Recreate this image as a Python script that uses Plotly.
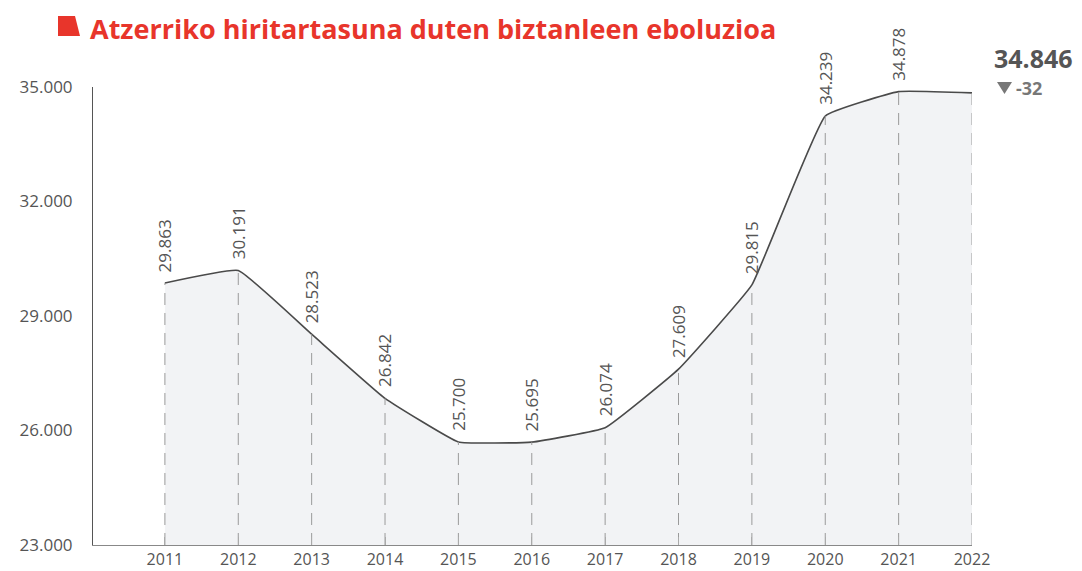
import plotly.graph_objects as go

years = [2011, 2012, 2013, 2014, 2015, 2016, 2017, 2018, 2019, 2020, 2021, 2022]
values = [29863, 30191, 28523, 26842, 25700, 25695, 26074, 27609, 29815, 34239, 34878, 34846]
labels = ["29.863", "30.191", "28.523", "26.842", "25.700", "25.695", "26.074", "27.609", "29.815", "34.239", "34.878"]
y_ticks = [23000, 26000, 29000, 32000, 35000]
last_value_text = "34.846"
change_value = "-32"
title_text = "Atzerriko hiritartasuna duten biztanleen eboluzioa"

OFF = 8  # page body margin
W, H = 1082 - OFF, 571 - OFF
ML, MR, MT, MB = 93 - OFF, 110, 87 - OFF, 26
FONT = "Open Sans"
GREY = "#555555"

def px(xp):
    return (xp - OFF - ML) / (W - ML - MR)

def py(yp):
    return 1 - (yp - OFF - MT) / (H - MT - MB)

fig = go.Figure()

fig.add_trace(go.Scatter(
    x=years, y=values, mode="lines",
    line=dict(color="#4a4a4a", width=1.6, shape="spline", smoothing=0.3),
    fill="tozeroy", fillcolor="#f2f3f5",
    hoverinfo="skip", showlegend=False,
))

for yr, v in zip(years, values):
    fig.add_trace(go.Scatter(
        x=[yr, yr], y=[y_ticks[0], v], mode="lines",
        line=dict(color="#9a9a9a", width=1, dash="12px,8px"),
        hoverinfo="skip", showlegend=False,
    ))

for yr, v, lab in zip(years, values, labels):
    fig.add_annotation(x=yr, y=v, text=lab, textangle=-90, showarrow=False,
                       xanchor="center", yanchor="bottom", yshift=9,
                       font=dict(family=FONT, size=17, color=GREY))

fig.add_annotation(xref="paper", yref="paper", x=px(88), y=py(28),
                   xanchor="left", yanchor="middle",
                   text="<b>" + title_text + "</b>", showarrow=False,
                   font=dict(family=FONT, size=27, color="#e8352b"))

fig.add_shape(type="path", xref="paper", yref="paper",
              path=f"M {px(58)},{py(16)} L {px(75)},{py(16)} L {px(80)},{py(36)} L {px(58)},{py(36)} Z",
              fillcolor="#e8352b", line=dict(width=0))

fig.add_annotation(xref="paper", yref="paper", x=px(992), y=py(77), xanchor="left", yanchor="bottom",
                   text="<b>" + last_value_text + "</b>", showarrow=False,
                   font=dict(family=FONT, size=25, color=GREY))
# down triangle marker
fig.add_shape(type="path", xref="paper", yref="paper",
              path=f"M {px(997)},{py(82)} L {px(1012)},{py(82)} L {px(1004.5)},{py(94)} Z",
              fillcolor="#777777", line=dict(width=0))
fig.add_annotation(xref="paper", yref="paper", x=px(1014), y=py(88), xanchor="left", yanchor="middle",
                   text="<b>" + change_value + "</b>", showarrow=False,
                   font=dict(family=FONT, size=18, color="#777777"))

fig.update_layout(
    width=W, height=H, margin=dict(l=ML, r=MR, t=MT, b=MB, autoexpand=False),
    paper_bgcolor="white", plot_bgcolor="white",
    separators=",.",
    font=dict(family=FONT, color=GREY),
    xaxis=dict(range=[2010.02, 2022], tickvals=years, ticks="inside", ticklen=8,
               tickcolor="#aaaaaa", showgrid=False, zeroline=False, automargin=False,
               showline=True, linecolor="#888888", linewidth=1,
               tickfont=dict(family=FONT, size=16, color=GREY)),
    yaxis=dict(range=[23000, 35000], tickvals=y_ticks, tickformat=",d", showgrid=False,
               zeroline=False, showline=True, linecolor="#555555", linewidth=1,
               ticks="", ticklabelstandoff=16, automargin=False,
               tickfont=dict(family=FONT, size=17, color=GREY)),
)

fig.write_html("out.html")
